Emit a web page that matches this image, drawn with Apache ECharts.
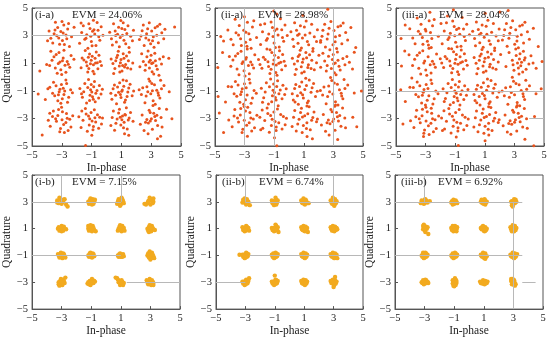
<!DOCTYPE html>
<html><head><meta charset="utf-8">
<script src="https://cdn.jsdelivr.net/npm/echarts@6/dist/echarts.min.js"></script>
<style>html,body{margin:0;padding:0;background:#fff}#c{width:550px;height:338px}</style>
</head><body><div id="c"></div>
<script>
const tickValues = [-5,-3,-1,1,3,5];
const panelLabels = ['(i-a)','(ii-a)','(iii-a)','(i-b)','(ii-b)','(iii-b)'];
const evmLabels = ['EVM = 24.06%','EVM = 28.98%','EVM = 28.04%','EVM = 7.15%','EVM = 6.74%','EVM = 6.92%'];
const xName = 'In-phase';
const yName = 'Quadrature';

const pointsIA = [
[-3.52,3.14],[-2.61,3.47],[-3.15,2.38],[-2.87,3.76],[-3.74,2.81],[-2.35,2.92],[-3.28,3.58],[-2.96,2.64],[-3.43,3.97],[-2.49,2.21],[-3.86,3.33],[-2.72,3.05],[-3.07,3.29],[-2.18,3.61],[-3.61,2.47],[-2.83,2.36],[-3.34,2.99],[-2.55,3.88],[-3.96,2.62],[-2.99,4.03],[-3.21,2.83],[-2.67,2.77],[-3.46,3.41],[-2.91,3.19],
[-0.84,3.42],[-1.46,2.73],[-0.52,2.91],[-1.19,3.86],[-0.71,2.28],[-1.67,3.22],[-0.36,3.64],[-1.02,2.58],[-1.33,3.07],[-0.63,3.95],[-1.81,2.44],[-0.94,3.31],[-1.25,2.09],[-0.45,2.67],[-1.56,3.71],[-0.79,3.12],[-1.11,3.52],[-0.24,3.03],[-1.38,2.81],[-0.97,2.27],[-1.71,3.91],[-0.57,3.38],[-1.06,2.96],[-0.88,4.12],
[1.17,2.66],[0.58,3.33],[1.44,3.71],[0.86,2.19],[1.62,2.95],[0.33,2.78],[1.03,3.52],[0.74,3.09],[1.29,2.41],[0.47,3.86],[1.81,3.38],[0.92,2.87],[1.51,2.14],[0.21,3.24],[1.12,3.93],[0.66,2.53],[1.36,3.16],[0.81,3.61],[1.74,2.62],[0.39,2.31],[1.07,3.02],[0.96,4.09],[1.23,3.44],[0.61,3.01],
[3.26,3.57],[2.64,2.82],[3.48,2.49],[2.87,3.94],[3.71,3.21],[2.39,3.36],[3.09,2.63],[2.53,2.28],[3.84,2.77],[2.76,3.49],[3.37,3.03],[2.21,2.71],[3.58,3.82],[2.96,2.41],[2.47,3.76],[3.19,2.16],[3.92,3.46],[2.69,3.13],[3.42,3.67],[2.31,2.98],[3.03,3.34],[2.84,2.69],[4.57,3.62],[3.14,2.92],
[-2.91,1.37],[-3.44,0.66],[-2.57,0.93],[-3.19,1.78],[-2.73,0.34],[-3.66,1.21],[-2.38,1.56],[-3.07,0.52],[-3.53,1.47],[-2.64,1.12],[-3.31,0.28],[-2.86,1.94],[-3.82,0.83],[-2.47,0.71],[-3.13,1.09],[-2.79,0.86],[-3.38,1.63],[-2.19,1.28],[-3.01,0.19],[-3.74,1.86],[-2.96,1.17],[-3.24,0.97],[-4.02,0.91],[-4.48,0.43],
[-0.77,1.36],[-1.31,0.81],[-0.58,0.59],[-1.14,1.67],[-0.91,0.42],[-1.52,1.24],[-0.43,1.13],[-1.26,0.37],[-0.69,1.82],[-1.08,0.96],[-1.71,0.67],[-0.34,0.84],[-0.96,1.51],[-1.43,1.92],[-0.62,1.04],[-1.19,0.61],[-0.83,0.24],[-1.64,1.38],[-0.51,1.58],[-1.03,1.21],[-0.88,0.89],[-1.36,1.09],[-0.74,1.01],[-1.22,1.44],
[1.21,0.73],[0.68,1.41],[1.47,1.18],[0.89,0.36],[1.12,1.69],[0.43,0.97],[1.63,0.58],[0.97,1.27],[0.56,0.62],[1.34,1.53],[0.79,1.86],[1.76,1.02],[1.04,0.44],[0.31,1.31],[1.28,0.91],[0.62,1.17],[1.53,1.79],[0.86,0.79],[1.17,1.36],[0.48,0.26],[1.41,0.66],[0.93,1.04],[1.08,0.84],[0.74,1.58],
[3.33,0.82],[2.71,1.46],[3.06,0.38],[2.47,1.13],[3.57,1.31],[2.88,0.66],[3.24,1.73],[2.59,0.49],[3.69,0.94],[2.94,1.22],[3.41,0.56],[2.36,1.68],[3.12,1.04],[2.79,1.89],[3.81,1.47],[2.63,0.87],[3.17,0.21],[2.99,1.57],[3.52,0.12],[2.24,0.74],[4.18,1.36],[3.03,0.97],[2.86,1.08],[3.28,1.17],
[-2.86,-1.27],[-3.39,-0.63],[-2.54,-1.46],[-3.13,-0.89],[-3.62,-1.18],[-2.68,-0.47],[-3.27,-1.72],[-2.41,-0.93],[-3.81,-0.74],[-2.97,-1.58],[-3.48,-1.36],[-2.73,-0.22],[-3.07,-1.91],[-2.29,-1.14],[-3.56,-0.38],[-2.91,-0.81],[-3.18,-1.07],[-2.62,-1.83],[-3.94,-0.86],[-3.03,-0.54],[-4.11,-1.63],[-2.81,-1.02],[-3.23,-1.29],[-4.59,-1.24],
[-0.72,-1.18],[-1.26,-0.76],[-0.94,-1.43],[-1.53,-1.06],[-0.48,-0.62],[-1.14,-1.71],[-0.81,-0.33],[-1.62,-1.47],[-0.37,-1.24],[-1.03,-0.54],[-1.34,-1.89],[-0.64,-0.97],[-1.79,-0.83],[-0.89,-1.61],[-1.21,-0.19],[-0.53,-1.52],[-1.46,-0.47],[-0.99,-1.09],[-0.28,-0.88],[-1.11,-1.33],[-0.76,-1.79],[-1.68,-1.21],[-0.86,-0.71],[-1.07,-0.93],
[1.16,-0.67],[0.61,-1.32],[1.43,-1.08],[0.88,-0.41],[1.27,-1.67],[0.44,-0.86],[1.58,-0.52],[0.97,-1.49],[0.67,-1.93],[1.34,-0.28],[0.29,-1.17],[1.72,-1.36],[1.06,-0.94],[0.53,-0.58],[1.21,-1.83],[0.81,-1.11],[1.49,-0.79],[0.36,-1.62],[1.11,-0.21],[0.74,-0.73],[1.82,-1.02],[0.93,-1.26],[1.02,-1.04],[1.38,-1.42],
[3.22,-0.57],[2.66,-1.38],[3.46,-1.14],[2.91,-0.31],[3.69,-0.86],[2.43,-0.77],[3.13,-1.72],[2.77,-1.06],[3.58,-1.53],[2.34,-1.27],[3.04,-0.48],[2.58,-1.86],[3.37,-0.96],[3.86,-0.62],[2.84,-0.14],[3.27,-1.97],[2.19,-0.93],[3.63,-0.23],[2.97,-1.21],[3.49,-1.33],[4.21,-1.07],[4.03,-2.34],[2.71,-0.71],[3.08,-0.99],
[-3.36,-3.21],[-2.69,-2.64],[-3.09,-3.73],[-2.47,-3.06],[-3.63,-2.87],[-2.88,-3.44],[-3.22,-2.36],[-2.58,-3.88],[-3.78,-3.57],[-2.96,-2.52],[-3.42,-3.02],[-2.27,-2.81],[-3.14,-3.96],[-2.73,-3.29],[-3.57,-2.46],[-2.39,-3.63],[-3.02,-2.19],[-3.91,-3.14],[-2.83,-4.02],[-4.32,-4.21],[-2.99,-3.09],[-3.27,-2.79],[-2.64,-2.99],[-3.81,-2.62],
[-0.73,-3.26],[-1.37,-2.68],[-0.91,-3.82],[-1.58,-3.13],[-0.46,-2.91],[-1.16,-3.47],[-0.82,-2.37],[-1.71,-3.66],[-0.34,-3.41],[-1.04,-2.57],[-1.29,-3.94],[-0.61,-2.74],[-1.86,-2.88],[-0.97,-3.19],[-1.42,-2.29],[-0.53,-3.71],[-1.13,-3.03],[-0.27,-2.97],[-1.66,-2.47],[-0.88,-3.58],[-0.99,-4.23],[-1.41,-4.97],[-1.21,-2.82],[-0.78,-2.96],
[1.23,-2.71],[0.63,-3.36],[1.46,-3.12],[0.87,-2.34],[1.14,-3.68],[0.38,-2.93],[1.61,-2.58],[0.96,-3.47],[0.54,-3.86],[1.33,-2.22],[0.71,-3.04],[1.78,-3.21],[1.07,-2.83],[0.29,-3.52],[1.39,-3.77],[0.81,-2.61],[1.52,-2.97],[0.46,-2.47],[1.18,-3.27],[0.92,-2.91],[1.21,-4.11],[1.49,-4.23],[1.03,-3.09],[1.27,-2.76],
[3.17,-2.63],[2.62,-3.27],[3.43,-3.51],[2.86,-2.41],[3.66,-2.94],[2.39,-2.76],[3.08,-3.79],[2.71,-3.08],[3.54,-2.29],[2.27,-3.43],[3.29,-3.16],[2.93,-2.57],[3.73,-3.62],[2.52,-3.87],[3.12,-2.07],[2.81,-3.34],[3.38,-2.77],[4.39,-3.02],[3.42,-4.48],[2.79,-4.11],[3.63,-4.29],[3.01,-3.03],[2.94,-3.18],[3.24,-2.86]
];

const pointsIIA = [
[-3.58,3.21],[-2.47,3.62],[-3.22,2.29],[-2.81,3.97],[-3.92,2.74],[-2.19,2.86],[-3.36,3.73],[-2.93,2.51],[-3.64,4.18],[-2.56,2.08],[-4.13,3.41],[-2.71,3.14],[-3.06,3.38],[-1.93,3.79],[-3.77,2.33],[-2.84,2.23],[-3.41,3.04],[-2.38,4.07],[-4.42,2.61],[-3.01,4.36],[-3.27,2.77],[-2.62,2.71],[-4.61,2.93],[-2.91,3.24],
[-0.81,3.48],[-1.53,2.66],[-0.44,2.87],[-1.21,3.99],[-0.66,2.17],[-1.79,3.28],[-0.27,3.76],[-1.01,2.47],[-1.37,3.11],[-0.58,4.23],[-1.92,2.36],[-0.96,3.37],[-1.28,1.98],[-0.36,2.59],[-1.64,3.86],[-0.74,3.04],[-1.12,3.59],[-0.12,3.01],[-1.46,2.79],[-0.92,2.14],[-1.03,4.78],[-0.49,3.42],[-1.08,2.94],[-0.83,4.57],
[1.24,2.57],[0.51,3.39],[1.53,3.82],[0.84,2.11],[1.71,2.92],[0.26,2.74],[1.04,3.63],[0.69,3.12],[1.33,2.33],[0.38,3.94],[1.92,3.42],[0.91,2.83],[1.62,2.06],[0.13,3.27],[1.16,4.06],[0.61,2.44],[1.41,3.19],[0.77,3.71],[1.86,2.58],[0.32,2.21],[1.09,3.04],[0.94,4.47],[2.13,2.51],[0.58,3.02],
[3.31,3.64],[2.58,2.76],[3.57,2.41],[2.83,4.03],[3.83,3.22],[2.29,3.38],[3.12,2.56],[2.46,2.17],[3.96,2.69],[2.71,3.54],[3.42,3.01],[2.14,2.64],[3.66,3.91],[2.97,2.33],[2.41,3.83],[3.22,2.07],[4.18,3.58],[2.64,3.12],[3.49,3.71],[2.23,2.96],[3.04,3.37],[2.62,4.91],[4.51,2.13],[3.14,2.91],
[-2.88,1.42],[-3.51,0.58],[-2.49,0.89],[-3.24,1.86],[-2.68,0.24],[-3.79,1.23],[-2.31,1.61],[-3.04,0.46],[-3.62,1.52],[-2.59,1.09],[-3.38,0.17],[-2.82,2.03],[-3.93,0.78],[-2.39,0.66],[-3.11,1.11],[-2.74,0.83],[-3.46,1.71],[-2.06,1.27],[-2.97,0.07],[-4.03,1.49],[-4.49,1.78],[-4.81,0.69],[-3.17,0.97],[-2.93,1.29],
[-0.72,1.41],[-1.38,0.76],[-0.49,0.53],[-1.16,1.78],[-0.89,0.33],[-1.61,1.27],[-0.33,1.14],[-1.29,0.26],[-0.64,1.91],[-1.07,0.94],[-1.83,0.63],[-0.24,0.81],[-0.97,1.58],[-1.49,2.02],[-0.56,1.06],[-1.21,0.57],[-0.81,0.13],[-1.73,1.44],[-0.43,1.63],[-1.02,1.23],[-0.86,0.87],[-1.42,1.11],[-0.69,0.99],[-1.96,0.91],
[1.27,0.69],[0.62,1.48],[1.54,1.21],[0.86,0.29],[1.14,1.77],[0.36,0.94],[1.71,0.52],[0.96,1.31],[0.49,0.57],[1.39,1.61],[0.76,1.94],[1.86,1.04],[1.03,0.38],[0.23,1.36],[1.31,0.88],[0.58,1.16],[1.61,1.87],[0.83,0.74],[1.19,1.39],[0.41,0.19],[1.49,0.61],[0.91,1.06],[2.02,1.58],[0.71,1.62],
[3.38,0.77],[2.67,1.51],[3.07,0.31],[2.41,1.16],[3.64,1.34],[2.86,0.61],[3.27,1.82],[2.52,0.44],[3.78,0.89],[2.93,1.26],[3.46,0.51],[2.29,1.73],[3.13,1.02],[2.76,1.97],[3.91,1.49],[2.58,0.84],[3.18,0.16],[2.99,1.63],[4.29,0.58],[2.14,0.71],[4.41,1.79],[3.02,0.96],[4.08,1.07],[3.31,1.21],
[-2.83,-1.31],[-3.44,-0.58],[-2.47,-1.52],[-3.16,-0.86],[-3.71,-1.22],[-2.63,-0.43],[-3.32,-1.83],[-2.36,-0.97],[-3.88,-0.71],[-2.94,-1.64],[-3.53,-1.39],[-2.69,-0.16],[-3.06,-1.97],[-2.21,-1.17],[-3.62,-0.32],[-2.89,-0.78],[-3.21,-1.06],[-2.56,-1.91],[-4.11,-0.69],[-3.01,-0.49],[-4.29,-1.81],[-4.79,-1.42],[-2.79,-2.19],[-3.27,-1.27],
[-0.68,-1.22],[-1.32,-0.71],[-0.92,-1.48],[-1.61,-1.09],[-0.41,-0.59],[-1.17,-1.79],[-0.77,-0.28],[-1.71,-1.51],[-0.29,-1.27],[-1.04,-0.51],[-1.39,-1.96],[-0.59,-0.94],[-1.87,-0.81],[-0.87,-1.67],[-1.24,-0.14],[-0.47,-1.58],[-1.53,-0.42],[-0.98,-1.12],[-0.19,-0.86],[-1.12,-1.36],[-0.73,-2.08],[-1.79,-1.83],[-0.83,-0.68],[-1.08,-0.96],
[1.18,-0.62],[0.57,-1.36],[1.49,-1.11],[0.86,-0.36],[1.31,-1.74],[0.38,-0.83],[1.66,-0.47],[0.97,-1.53],[0.63,-1.98],[1.37,-0.21],[0.22,-1.21],[1.79,-1.41],[1.07,-0.91],[0.46,-0.54],[1.24,-1.87],[0.79,-1.14],[1.56,-0.77],[0.29,-1.66],[1.13,-0.09],[0.71,-0.69],[1.91,-1.03],[0.92,-1.29],[1.21,-2.11],[0.41,-1.81],
[3.27,-0.52],[2.61,-1.42],[3.53,-1.17],[2.89,-0.26],[3.78,-0.84],[2.36,-0.72],[3.14,-1.79],[2.74,-1.07],[3.64,-1.58],[2.27,-1.31],[3.06,-0.43],[2.51,-1.93],[3.41,-0.93],[3.97,-0.58],[2.81,-0.04],[3.31,-2.03],[2.12,-0.97],[3.72,-0.18],[2.96,-1.24],[3.56,-1.37],[4.41,-1.16],[4.89,-1.01],[2.68,-0.66],[3.09,-2.12],
[-3.41,-3.26],[-2.64,-2.58],[-3.12,-3.79],[-2.41,-3.04],[-3.71,-2.83],[-2.86,-3.49],[-3.26,-2.29],[-2.52,-3.92],[-3.84,-3.61],[-2.94,-2.47],[-3.48,-2.98],[-2.17,-2.77],[-3.17,-4.03],[-2.69,-3.31],[-3.66,-2.36],[-2.33,-3.68],[-3.03,-2.14],[-4.07,-3.12],[-2.81,-4.29],[-4.42,-4.02],[-4.71,-2.61],[-3.29,-2.76],[-2.58,-2.97],[-3.02,-3.14],
[-0.69,-3.31],[-1.43,-2.64],[-0.87,-3.87],[-1.64,-3.16],[-0.38,-2.86],[-1.19,-3.52],[-0.78,-2.31],[-1.77,-3.72],[-0.26,-3.46],[-1.02,-2.53],[-1.33,-4.01],[-0.56,-2.71],[-1.97,-2.92],[-0.94,-3.23],[-1.48,-2.24],[-0.47,-3.77],[-1.14,-3.06],[-0.17,-2.99],[-1.81,-2.39],[-0.86,-3.62],[-0.98,-4.41],[-0.82,-4.98],[-1.24,-2.79],[-1.91,-3.83],
[1.27,-2.66],[0.59,-3.41],[1.53,-3.14],[0.84,-2.27],[1.18,-3.73],[0.31,-2.91],[1.69,-2.53],[0.97,-3.51],[0.49,-3.92],[1.36,-2.16],[0.68,-3.07],[1.86,-3.24],[1.06,-2.81],[0.21,-3.58],[1.44,-3.83],[0.78,-2.57],[1.61,-2.94],[0.39,-2.42],[1.21,-3.31],[0.91,-2.89],[1.22,-4.31],[1.58,-4.48],[0.89,-4.02],[1.92,-3.04],
[3.21,-2.58],[2.57,-3.32],[3.51,-3.57],[2.83,-2.36],[3.77,-2.97],[2.32,-2.71],[3.11,-3.86],[2.66,-3.12],[3.62,-2.24],[2.19,-3.48],[3.34,-3.19],[2.91,-2.51],[3.82,-3.67],[2.47,-3.94],[3.14,-2.02],[2.77,-3.38],[3.43,-2.79],[4.31,-2.91],[3.29,-4.52],[2.71,-4.21],[4.58,-3.61],[3.02,-3.04],[2.96,-3.23],[3.27,-2.88]
];

const pointsIIIA = [
[-3.49,3.31],[-2.53,3.71],[-3.18,2.37],[-2.76,4.08],[-3.87,2.83],[-2.14,2.96],[-3.31,3.82],[-2.88,2.59],[-3.57,4.27],[-2.62,2.14],[-4.07,3.49],[-2.67,3.22],[-3.02,3.46],[-1.96,3.88],[-3.71,2.41],[-2.81,2.31],[-3.36,3.12],[-2.42,4.16],[-4.66,2.79],[-2.71,4.69],[-3.22,2.86],[-2.58,2.79],[-4.38,3.77],[-2.98,3.34],
[-0.76,3.53],[-1.49,2.71],[-0.39,2.93],[-1.17,4.06],[-0.61,2.23],[-1.74,3.34],[-0.22,3.82],[-0.97,2.52],[-1.33,3.17],[-0.53,4.31],[-1.88,2.41],[-0.91,3.44],[-1.24,2.04],[-0.31,2.64],[-1.59,3.93],[-0.69,3.09],[-1.07,3.66],[-0.04,3.07],[-1.41,2.86],[-0.87,2.19],[-1.12,4.88],[-0.44,3.47],[-1.03,2.99],[-1.52,4.42],
[1.29,2.62],[0.56,3.44],[1.58,3.87],[0.89,2.16],[1.76,2.98],[0.31,2.79],[1.09,3.68],[0.74,3.17],[1.38,2.38],[0.43,3.99],[1.97,3.47],[0.96,2.88],[1.67,2.11],[0.18,3.32],[1.21,4.11],[0.66,2.49],[1.46,3.24],[0.82,3.76],[1.91,2.63],[0.37,2.26],[1.14,3.09],[1.03,4.62],[2.02,4.71],[0.63,3.07],
[3.36,3.69],[2.63,2.81],[3.62,2.46],[2.88,4.08],[3.88,3.27],[2.34,3.43],[3.17,2.61],[2.51,2.22],[4.01,2.74],[2.76,3.59],[3.47,3.06],[2.19,2.69],[3.71,3.96],[3.02,2.38],[2.46,3.88],[3.27,2.12],[4.28,3.53],[2.69,3.17],[3.54,3.76],[2.28,3.01],[3.09,3.42],[2.58,4.82],[4.61,2.21],[3.19,2.96],
[-2.83,1.47],[-3.46,0.63],[-2.44,0.94],[-3.19,1.91],[-2.63,0.29],[-3.74,1.28],[-2.26,1.66],[-2.99,0.51],[-3.57,1.57],[-2.54,1.14],[-3.33,0.22],[-2.77,2.08],[-3.88,0.83],[-2.34,0.71],[-3.06,1.16],[-2.69,0.88],[-3.41,1.76],[-2.01,1.32],[-2.92,0.12],[-4.12,1.62],[-4.41,1.88],[-4.63,0.79],[-3.12,1.02],[-3.93,-0.08],
[-0.67,1.46],[-1.33,0.81],[-0.44,0.58],[-1.11,1.83],[-0.84,0.38],[-1.56,1.32],[-0.28,1.19],[-1.24,0.31],[-0.59,1.96],[-1.02,0.99],[-1.78,0.68],[-0.19,0.86],[-0.92,1.63],[-1.44,2.07],[-0.51,1.11],[-1.16,0.62],[-0.76,0.18],[-1.68,1.49],[-0.38,1.68],[-0.97,1.28],[-0.81,0.92],[-1.37,1.16],[-0.64,1.04],[-1.91,1.01],
[1.32,0.74],[0.67,1.53],[1.59,1.26],[0.91,0.34],[1.19,1.82],[0.41,0.99],[1.76,0.57],[1.01,1.36],[0.54,0.62],[1.44,1.66],[0.81,1.99],[1.91,1.09],[1.08,0.43],[0.28,1.41],[1.36,0.93],[0.63,1.21],[1.66,1.92],[0.88,0.79],[1.24,1.44],[0.46,0.24],[1.54,0.66],[0.96,1.11],[2.07,1.63],[0.76,1.67],
[3.43,0.82],[3.12,1.56],[3.56,0.36],[2.86,1.21],[3.72,1.39],[3.27,0.66],[3.61,1.87],[2.97,0.49],[3.98,0.94],[3.34,1.31],[3.79,0.56],[2.64,1.78],[3.48,1.07],[3.09,2.02],[4.12,1.54],[2.91,0.89],[3.31,0.21],[3.38,1.68],[4.47,0.63],[2.43,0.76],[4.87,1.12],[3.21,1.01],[4.26,1.02],[3.67,1.24],
[-2.78,-1.36],[-3.39,-0.63],[-2.42,-1.57],[-3.11,-0.91],[-3.66,-1.27],[-2.58,-0.48],[-3.27,-1.88],[-2.31,-1.02],[-3.83,-0.76],[-2.89,-1.69],[-3.48,-1.44],[-2.64,-0.21],[-3.01,-2.02],[-2.16,-1.22],[-3.57,-0.37],[-2.84,-0.83],[-3.16,-1.11],[-2.51,-1.96],[-4.06,-0.74],[-2.96,-0.54],[-4.37,-1.77],[-4.68,-0.93],[-2.62,-2.26],[-3.22,-1.32],
[-0.63,-1.27],[-1.27,-0.76],[-0.87,-1.53],[-1.56,-1.14],[-0.36,-0.64],[-1.12,-1.84],[-0.72,-0.33],[-1.66,-1.56],[-0.24,-1.32],[-0.99,-0.56],[-1.34,-2.01],[-0.54,-0.99],[-1.82,-0.86],[-0.82,-1.72],[-1.19,-0.19],[-0.42,-1.63],[-1.48,-0.47],[-0.93,-1.17],[-0.14,-0.91],[-1.07,-1.41],[-0.68,-2.03],[-1.74,-1.78],[-0.78,-0.73],[-1.03,-1.01],
[1.23,-0.67],[0.62,-1.41],[1.54,-1.16],[0.91,-0.41],[1.36,-1.79],[0.43,-0.88],[1.71,-0.52],[1.02,-1.58],[0.68,-2.03],[1.42,-0.26],[0.27,-1.26],[1.84,-1.46],[1.12,-0.96],[0.51,-0.59],[1.29,-1.92],[0.84,-1.19],[1.61,-0.82],[0.34,-1.71],[1.18,-0.14],[0.76,-0.74],[1.96,-1.08],[0.97,-1.34],[1.26,-2.16],[0.46,-1.86],
[3.32,-0.57],[2.66,-1.47],[3.58,-1.22],[2.94,-0.31],[3.83,-0.89],[2.41,-0.77],[3.19,-1.84],[2.79,-1.12],[3.69,-1.63],[2.32,-1.36],[3.11,-0.48],[2.56,-1.98],[3.46,-0.98],[4.02,-0.63],[2.86,-0.02],[3.36,-2.08],[2.17,-1.02],[3.77,-0.23],[3.01,-1.29],[3.61,-1.42],[4.46,-1.21],[4.81,-0.86],[2.73,-0.71],[3.14,-2.17],
[-3.36,-3.31],[-2.59,-2.63],[-3.07,-3.84],[-2.36,-3.09],[-3.66,-2.88],[-2.81,-3.54],[-3.21,-2.34],[-2.47,-3.97],[-3.79,-3.66],[-2.89,-2.52],[-3.43,-3.03],[-2.12,-2.82],[-3.12,-4.08],[-2.64,-3.36],[-3.61,-2.41],[-2.28,-3.73],[-2.98,-2.19],[-4.02,-3.17],[-2.76,-4.16],[-3.14,-4.31],[-4.53,-3.41],[-3.24,-2.81],[-2.53,-3.02],[-2.97,-3.19],
[-0.64,-3.36],[-1.38,-2.69],[-0.82,-3.92],[-1.59,-3.21],[-0.33,-2.91],[-1.14,-3.57],[-0.73,-2.36],[-1.72,-3.77],[-0.21,-3.51],[-0.97,-2.58],[-1.28,-4.06],[-0.51,-2.76],[-1.92,-2.97],[-0.89,-3.28],[-1.43,-2.29],[-0.42,-3.82],[-1.09,-3.11],[-0.12,-3.04],[-1.76,-2.44],[-0.81,-3.67],[-0.93,-4.34],[-0.79,-4.97],[-1.19,-2.84],[-1.86,-3.88],
[1.32,-2.71],[0.64,-3.46],[1.58,-3.19],[0.89,-2.32],[1.23,-3.78],[0.36,-2.96],[1.74,-2.58],[1.02,-3.56],[0.54,-3.97],[1.41,-2.21],[0.73,-3.12],[1.91,-3.29],[1.11,-2.86],[0.26,-3.63],[1.49,-3.88],[0.83,-2.62],[1.66,-2.99],[0.44,-2.47],[1.26,-3.36],[0.96,-2.94],[1.27,-4.21],[1.02,-4.62],[0.94,-4.07],[1.97,-3.09],
[3.26,-2.63],[2.62,-3.37],[3.56,-3.62],[2.88,-2.41],[3.82,-3.02],[2.37,-2.76],[3.16,-3.91],[2.71,-3.17],[3.67,-2.29],[2.24,-3.53],[3.39,-3.24],[2.96,-2.56],[3.87,-3.72],[2.52,-3.99],[3.19,-2.07],[2.82,-3.43],[3.48,-2.84],[4.36,-2.86],[3.71,-4.51],[2.76,-4.14],[4.31,-4.98],[3.07,-3.09],[3.01,-3.28],[3.32,-2.93]
];

const pointsIB = [
[-3.3,3.1],[-3.1,3.2],[-2.9,3.0],[-3.2,2.9],[-3.0,3.1],[-2.8,3.2],[-3.3,2.95],[-3.0,2.85],[-2.7,2.8],[-2.6,2.65],[-3.15,3.3],[-2.9,3.15],
[-1.1,3.1],[-0.9,3.2],[-1.0,2.9],[-0.8,3.0],[-1.2,3.0],[-0.95,2.8],[-1.05,3.25],[-0.85,2.85],[-1.15,2.85],[-0.75,3.15],[-1.0,3.05],[-0.9,2.95],
[0.9,3.1],[1.1,3.2],[1.0,2.8],[0.8,3.0],[1.2,2.9],[0.95,2.7],[1.05,3.3],[0.85,3.2],[1.15,3.05],[0.75,2.85],[1.0,3.0],[0.9,2.9],
[2.9,3.1],[3.1,3.2],[2.8,2.9],[3.0,2.8],[3.2,3.0],[2.7,2.8],[2.95,3.3],[3.15,2.9],[2.85,3.05],[2.6,2.85],[3.05,3.1],[3.2,3.25],
[-3.2,1.1],[-3.0,1.2],[-2.8,1.0],[-3.1,0.9],[-2.9,0.85],[-3.25,1.0],[-2.7,0.95],[-3.05,1.05],[-2.85,1.15],[-3.15,0.85],[-2.95,0.95],[-3.0,0.8],
[-1.1,1.1],[-0.9,1.2],[-1.0,0.9],[-1.2,1.0],[-0.8,0.9],[-1.05,1.25],[-0.95,0.8],[-1.15,0.85],[-0.85,1.05],[-0.7,0.8],[-1.0,1.05],[-1.2,1.2],
[0.9,1.1],[1.1,1.2],[1.0,0.9],[0.85,1.0],[1.15,0.95],[0.95,1.25],[1.05,0.8],[0.8,0.85],[1.2,1.05],[0.95,0.95],[1.0,1.1],[1.25,0.85],
[2.9,1.1],[3.1,1.2],[3.0,0.9],[2.8,1.0],[3.2,0.95],[2.95,1.25],[3.05,0.8],[2.85,0.85],[3.15,1.05],[3.3,0.9],[3.0,1.05],[2.9,0.75],
[-3.1,-0.9],[-2.9,-0.85],[-3.0,-1.1],[-3.2,-1.0],[-2.8,-1.05],[-3.05,-0.8],[-2.95,-1.2],[-3.15,-1.15],[-2.85,-0.9],[-3.25,-0.9],[-3.0,-1.0],[-2.75,-1.15],
[-1.1,-0.9],[-0.9,-0.85],[-1.0,-1.1],[-1.2,-1.0],[-0.8,-1.05],[-1.05,-0.8],[-0.95,-1.15],[-1.15,-1.1],[-0.85,-0.9],[-1.0,-1.0],[-1.1,-0.85],[-0.9,-1.1],
[0.9,-0.9],[1.1,-0.95],[1.0,-1.1],[0.8,-1.0],[1.2,-1.05],[0.95,-0.85],[1.05,-1.05],[0.85,-1.1],[1.15,-0.9],[1.0,-1.0],[0.9,-1.05],[1.1,-1.1],
[2.9,-0.9],[3.1,-0.8],[3.0,-1.1],[2.8,-1.0],[3.2,-1.05],[2.95,-0.7],[3.05,-1.2],[2.85,-0.85],[3.15,-0.95],[3.0,-1.3],[2.9,-1.15],[3.25,-1.2],
[-3.1,-2.9],[-2.9,-2.8],[-3.0,-3.1],[-3.2,-3.0],[-2.8,-3.05],[-3.05,-2.75],[-2.95,-3.2],[-3.2,-3.15],[-2.85,-2.9],[-2.75,-2.65],[-3.0,-3.0],[-3.15,-3.25],
[-1.1,-2.9],[-0.9,-2.85],[-1.0,-3.1],[-1.2,-3.0],[-0.8,-2.9],[-1.05,-3.2],[-0.95,-2.75],[-1.15,-3.15],[-0.85,-3.05],[-1.25,-3.1],[-1.0,-3.0],[-0.75,-2.95],
[0.9,-2.9],[1.1,-2.95],[1.0,-3.1],[0.8,-2.8],[1.2,-3.05],[0.95,-3.2],[1.05,-2.85],[0.75,-2.7],[1.15,-3.2],[0.85,-3.0],[1.0,-3.0],[0.65,-2.65],
[2.9,-2.9],[3.1,-2.85],[3.0,-3.1],[2.8,-3.0],[3.2,-3.05],[2.95,-2.75],[3.05,-3.2],[2.85,-3.15],[3.15,-2.95],[2.75,-2.85],[3.0,-3.0],[3.2,-3.2]
];

const pointsIIB = [
[-3.1,3.1],[-2.9,3.2],[-3.0,2.9],[-2.8,3.0],[-3.2,2.95],[-2.95,2.8],[-3.05,3.25],[-2.85,2.85],[-3.15,3.15],[-2.7,2.75],[-3.0,3.05],[-2.9,2.95],
[-1.1,3.05],[-0.9,3.15],[-1.0,2.85],[-0.85,2.95],[-1.15,2.9],[-0.95,3.3],[-1.05,2.75],[-0.8,3.1],[-1.2,3.1],[-0.9,2.8],[-1.0,3.0],[-1.1,2.95],
[0.9,3.05],[1.1,3.15],[1.0,2.85],[0.85,2.95],[1.2,2.9],[0.95,3.25],[1.05,2.8],[0.8,3.1],[1.15,3.05],[1.3,2.9],[1.0,3.0],[0.9,2.9],
[2.9,3.05],[3.1,3.2],[3.0,2.8],[2.85,2.95],[3.15,2.9],[2.95,3.3],[3.05,2.7],[2.8,3.1],[3.2,3.05],[2.9,2.85],[3.0,3.0],[3.1,2.85],
[-3.1,1.05],[-2.9,1.15],[-3.0,0.85],[-2.85,0.95],[-3.15,0.9],[-2.95,1.2],[-3.05,0.8],[-2.8,1.05],[-3.2,1.1],[-2.75,0.85],[-3.0,1.0],[-3.1,0.9],
[-1.1,1.05],[-0.9,1.2],[-1.0,0.85],[-0.85,0.95],[-1.15,0.9],[-0.95,1.3],[-1.05,0.8],[-0.8,1.1],[-1.2,1.05],[-0.75,0.75],[-1.0,1.0],[-0.9,0.9],
[0.9,1.05],[1.1,1.15],[1.0,0.85],[0.85,0.95],[1.15,0.9],[0.95,1.2],[1.05,0.8],[0.8,1.1],[1.2,1.05],[1.25,0.75],[1.0,1.0],[0.9,0.9],
[2.9,1.05],[3.1,1.15],[3.0,0.85],[2.85,0.95],[3.15,0.9],[2.95,1.2],[3.05,0.8],[2.8,1.1],[3.2,1.05],[2.9,0.85],[3.0,1.0],[3.25,0.95],
[-3.1,-0.95],[-2.9,-0.85],[-3.0,-1.15],[-2.85,-1.05],[-3.15,-1.1],[-2.95,-0.8],[-3.05,-1.2],[-2.8,-0.9],[-3.2,-0.95],[-3.4,-0.95],[-3.0,-1.0],[-2.9,-1.1],
[-1.1,-0.95],[-0.9,-0.85],[-1.0,-1.15],[-0.85,-1.05],[-1.15,-1.1],[-0.95,-0.8],[-1.05,-1.2],[-0.8,-0.9],[-1.2,-0.95],[-0.9,-1.1],[-1.0,-1.0],[-1.1,-0.85],
[0.9,-0.95],[1.1,-0.85],[1.0,-1.15],[0.85,-1.05],[1.15,-1.1],[0.95,-0.8],[1.05,-1.2],[0.8,-0.9],[1.2,-0.95],[0.9,-1.1],[1.0,-1.0],[1.1,-1.05],
[2.9,-0.95],[3.1,-0.85],[3.0,-1.15],[2.85,-1.05],[3.15,-1.1],[2.95,-0.8],[3.05,-1.2],[2.8,-0.9],[3.2,-0.95],[3.25,-1.2],[3.0,-1.0],[2.9,-1.1],
[-3.1,-2.95],[-2.9,-2.85],[-3.0,-3.15],[-2.85,-3.05],[-3.15,-3.1],[-2.95,-2.8],[-3.05,-3.2],[-2.8,-2.9],[-3.2,-2.95],[-2.75,-2.7],[-3.0,-3.0],[-2.9,-3.1],
[-1.1,-2.95],[-0.9,-2.85],[-1.0,-3.15],[-0.85,-3.05],[-1.15,-3.1],[-0.95,-2.8],[-1.05,-3.2],[-0.8,-2.9],[-1.2,-2.95],[-1.0,-2.5],[-1.0,-3.0],[-0.9,-3.1],
[0.9,-2.95],[1.1,-2.85],[1.0,-3.15],[0.85,-3.05],[1.15,-3.1],[0.95,-2.8],[1.05,-3.2],[0.8,-2.9],[1.2,-2.95],[0.9,-3.1],[1.0,-3.0],[1.1,-3.05],
[2.9,-2.95],[3.1,-2.85],[3.0,-3.15],[2.85,-3.05],[3.15,-3.1],[2.95,-2.8],[3.05,-3.2],[2.8,-2.9],[3.2,-2.95],[3.1,-2.6],[3.0,-3.0],[3.0,-3.35]
];

const pointsIIIB = [
[-3.1,3.0],[-2.9,3.1],[-3.0,2.9],[-2.8,2.95],[-3.2,3.1],[-2.95,3.2],[-3.05,2.85],[-2.85,3.05],[-3.15,2.95],[-2.65,3.05],[-3.0,3.15],[-3.25,2.9],
[-1.1,3.0],[-0.9,3.1],[-1.0,2.85],[-0.85,3.0],[-1.15,3.05],[-0.95,2.9],[-1.05,3.15],[-0.8,2.9],[-1.2,2.95],[-1.1,2.8],[-1.0,3.0],[-0.9,2.95],
[0.9,3.05],[1.1,3.1],[1.0,2.85],[0.85,3.15],[1.15,2.95],[0.95,2.9],[1.05,3.2],[0.8,3.0],[1.2,3.0],[1.1,2.8],[1.0,3.0],[0.9,2.9],
[2.9,3.05],[3.1,3.1],[3.0,2.85],[2.85,3.0],[3.15,3.15],[2.95,2.9],[3.05,3.2],[2.9,2.75],[3.2,3.0],[2.95,2.65],[3.0,3.0],[3.1,2.9],
[-3.05,1.05],[-2.9,1.15],[-3.0,0.9],[-2.85,1.0],[-3.1,1.2],[-2.95,0.85],[-3.05,1.3],[-2.95,0.75],[-3.1,0.95],[-2.8,1.1],[-3.0,1.0],[-2.75,0.6],
[-1.1,1.05],[-0.9,1.15],[-1.0,0.85],[-0.85,0.95],[-1.15,0.9],[-0.95,1.2],[-1.05,0.8],[-0.8,1.1],[-1.2,1.05],[-0.85,0.8],[-1.0,1.0],[-1.1,1.2],
[0.9,1.05],[1.1,1.1],[1.0,0.85],[0.85,0.95],[1.15,0.9],[0.95,1.2],[1.05,0.8],[0.8,1.05],[1.2,1.0],[1.1,0.85],[1.0,1.0],[0.9,1.15],
[2.9,1.05],[3.1,1.15],[3.0,0.85],[2.85,0.95],[3.15,0.9],[2.95,1.25],[3.05,0.8],[2.8,1.1],[3.2,1.05],[2.9,0.8],[3.0,1.0],[3.1,1.2],
[-3.1,-0.9],[-2.9,-0.85],[-3.0,-1.15],[-2.85,-1.05],[-3.15,-1.1],[-2.95,-0.8],[-3.05,-1.2],[-2.8,-0.95],[-3.2,-1.0],[-2.9,-1.1],[-3.0,-1.0],[-3.1,-0.8],
[-1.1,-0.95],[-0.9,-0.85],[-1.0,-1.15],[-0.85,-1.05],[-1.15,-1.1],[-0.95,-0.8],[-1.05,-1.2],[-0.8,-0.95],[-1.2,-1.0],[-0.9,-1.1],[-1.0,-1.0],[-1.1,-0.85],
[0.9,-0.95],[1.1,-0.85],[1.0,-1.15],[0.85,-1.05],[1.15,-1.1],[0.95,-0.8],[1.05,-1.2],[0.8,-0.95],[1.2,-1.05],[1.1,-1.25],[1.0,-1.0],[0.9,-1.1],
[2.9,-0.95],[3.1,-0.85],[3.0,-1.15],[2.85,-1.05],[3.15,-1.1],[2.95,-0.8],[3.05,-1.2],[2.8,-0.95],[3.2,-1.0],[2.9,-1.1],[3.0,-1.0],[3.25,-0.9],
[-3.1,-2.95],[-2.9,-2.85],[-3.0,-3.1],[-2.85,-3.05],[-3.15,-3.05],[-2.95,-2.8],[-3.05,-3.15],[-2.8,-2.95],[-3.2,-3.0],[-2.75,-3.05],[-3.0,-3.0],[-3.1,-2.85],
[-1.05,-2.95],[-0.9,-2.8],[-1.0,-3.15],[-0.85,-3.05],[-1.1,-3.1],[-0.95,-2.7],[-1.0,-3.3],[-0.85,-2.9],[-1.1,-2.85],[-0.9,-3.2],[-1.0,-3.0],[-1.05,-3.25],
[0.9,-2.95],[1.1,-2.9],[1.0,-3.1],[0.8,-3.05],[1.2,-3.05],[0.95,-2.85],[1.05,-3.15],[0.75,-2.95],[1.25,-2.95],[0.9,-3.1],[1.0,-3.0],[1.1,-3.1],
[2.9,-2.95],[3.05,-2.85],[3.0,-3.1],[2.85,-2.9],[3.1,-3.05],[2.95,-2.75],[3.05,-3.2],[2.9,-3.15],[3.15,-3.15],[2.85,-2.75],[3.0,-3.0],[3.1,-3.25]
];

// faint grey guide-line artefacts seen in the figure (data coords)
const guideLines = [
  [[[-5,3],[5,3]]],
  [[[-3,-5],[-3,5]],[[-1,-5],[-1,5]],[[3,-5],[3,5]]],
  [[[-5,3],[3.2,3]],[[-5,-1],[5,-1]],[[4.0,-3],[5,-3]]],
  [[[-3,3],[-3,5]],[[1,3],[1,5]],[[-5,3],[1,3]],[[-5,-1],[1,-1]],[[1.4,-3],[5,-3]]],
  [[[-3,3],[-3,5]],[[3,3],[3,5]],[[-3,3],[5,3]],[[-2.7,-1],[5,-1]],[[-5,-3],[-3,-3]]],
  [[[-3,3],[-3,5]],[[3,-5],[3,3]],[[-5,3],[3.6,3]],[[-5,-1],[3.6,-1]],[[3.6,-3],[4.5,-3]]]
];

const allPoints = [pointsIA, pointsIIA, pointsIIIA, pointsIB, pointsIIB, pointsIIIB];
const boxes = [
  [29, 8, 152, 138], [215, 8, 148, 138], [396, 8, 148, 138],
  [29, 175, 151, 136], [216, 175, 147, 136], [395, 175, 148, 136]
];
const FONT = '"Liberation Serif", "Times New Roman", serif';
const topColor = '#E8531D';
const botColor = '#F2AA1F';

const fmt = v => (v < 0 ? '\u2212' + Math.abs(v) : String(v));

const grid = [], xAxis = [], yAxis = [], series = [], graphic = [];
boxes.forEach((b, i) => {
  grid.push({left: b[0], top: b[1], width: b[2], height: b[3], show: true, borderColor: '#555', borderWidth: 1, backgroundColor: '#fff'});
  const axCommon = {
    gridIndex: i, type: 'value', min: tickValues[0], max: tickValues[tickValues.length-1], interval: 2,
    axisLine: {show: true, onZero: false, lineStyle: {color: '#555', width: 1}},
    axisTick: {show: true, inside: true, length: 3, lineStyle: {color: '#555'}},
    splitLine: {show: false},
    axisLabel: {fontFamily: FONT, fontSize: 10.5, color: '#222', margin: 4, formatter: fmt},
    nameTextStyle: {fontFamily: FONT, fontSize: 11.5, color: '#222'}
  };
  xAxis.push(Object.assign({}, axCommon, {name: xName, nameLocation: 'middle', nameGap: 14}));
  yAxis.push(Object.assign({}, axCommon, {name: yName, nameLocation: 'middle', nameGap: 11, nameRotate: 90}));
  const isTop = i < 3;
  series.push({
    type: 'scatter', xAxisIndex: i, yAxisIndex: i, data: allPoints[i],
    symbol: 'circle', symbolSize: isTop ? 3 : 4.4,
    itemStyle: {color: isTop ? topColor : botColor, opacity: 1},
    silent: true, animation: false, z: 3,
    markLine: {
      silent: true, symbol: ['none','none'], label: {show: false}, animation: false,
      lineStyle: {color: '#b8b8b8', width: 1, type: 'solid'},
      data: guideLines[i].map(s => [{coord: s[0]}, {coord: s[1]}])
    }
  });
  graphic.push({type: 'text', left: b[0] + 6, top: b[1] + 2, z: 10,
    style: {text: panelLabels[i], font: '11px ' + FONT, fill: '#222'}});
  graphic.push({type: 'text', left: b[0] + 43, top: b[1] + 2, z: 10,
    style: {text: evmLabels[i], font: '11px ' + FONT, fill: '#222'}});
});

const chart = echarts.init(document.getElementById('c'), null, {renderer: 'canvas'});
chart.setOption({animation: false, grid, xAxis, yAxis, series, graphic});
</script>
</body></html>
